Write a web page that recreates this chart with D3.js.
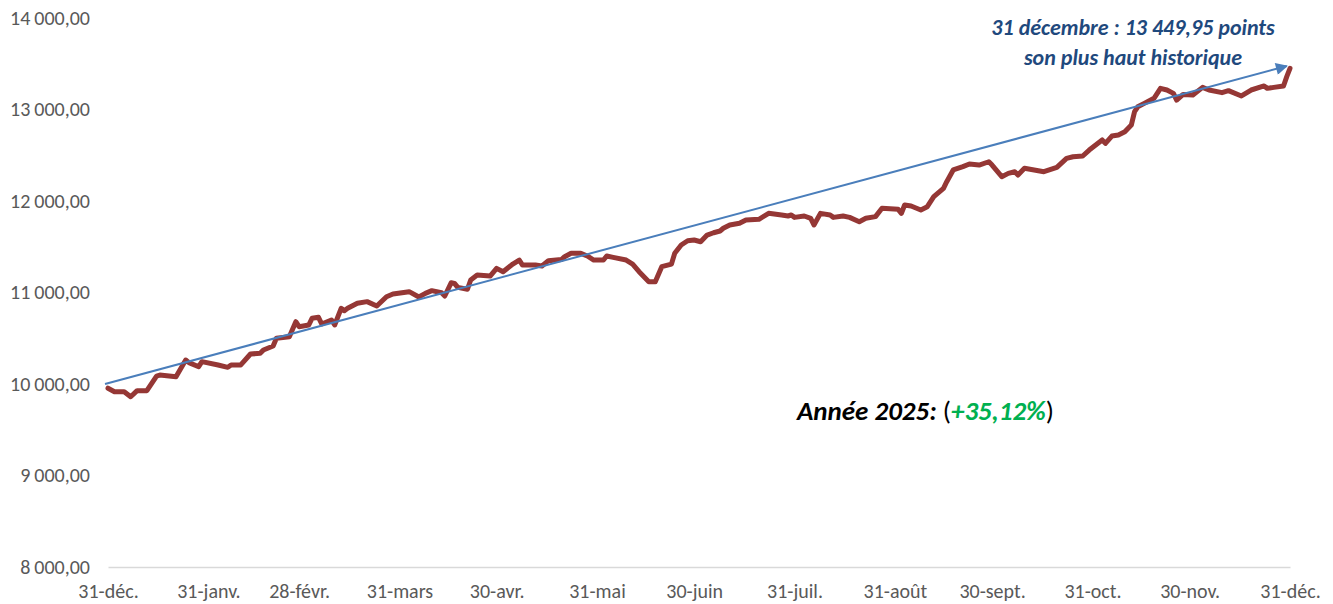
<!DOCTYPE html>
<html>
<head>
<meta charset="utf-8">
<script src="https://cdn.jsdelivr.net/npm/d3@7"></script>
<style>
  html, body { margin: 0; padding: 0; background: #ffffff; }
  svg { display: block; }
  text { font-family: Carlito, Lato, "Liberation Sans Narrow", sans-serif; }
</style>
</head>
<body>
<svg id="chart" width="1333" height="604"></svg>
<script>
// ---------- DATA ----------
const baseDate = "2024-12-31";
// day offsets from 31-déc. 2024
const dayOffsets = [0,2,5,7,9,12,15,16,21,24,25,28,29,34,37,38,41,44,47,48,51,52,56,58,59,62,63,65,66,69,70,72,73,74,77,80,83,86,88,93,96,98,100,103,104,106,107,108,111,112,114,118,120,122,125,127,128,132,134,136,140,141,143,146,148,150,153,154,156,160,162,164,167,169,171,174,175,177,179,181,183,185,187,189,190,192,195,197,201,204,208,210,211,212,215,217,218,220,223,224,227,229,232,234,237,239,244,245,246,248,251,253,255,258,259,261,264,266,269,272,273,276,278,280,281,283,286,289,293,296,298,301,303,305,307,308,310,312,314,316,317,318,320,323,325,327,329,330,332,335,338,340,344,346,350,353,357,358,360,363,364,365];
const indexValues = [9954,9916,9916,9861,9927,9927,10087,10098,10080,10262,10233,10189,10244,10208,10182,10208,10208,10328,10335,10372,10415,10499,10517,10681,10626,10645,10718,10729,10656,10700,10645,10827,10802,10827,10882,10900,10852,10954,10984,11009,10951,10991,11020,10998,10962,11107,11100,11056,11035,11137,11191,11180,11264,11227,11311,11355,11300,11300,11290,11348,11360,11391,11428,11428,11399,11355,11355,11399,11384,11355,11311,11227,11118,11118,11282,11311,11428,11519,11566,11574,11555,11628,11653,11672,11702,11738,11756,11792,11800,11865,11847,11836,11847,11821,11836,11811,11738,11865,11847,11821,11836,11821,11774,11811,11829,11920,11909,11865,11956,11945,11902,11938,12047,12139,12211,12339,12375,12404,12393,12429,12393,12266,12302,12320,12284,12357,12339,12320,12368,12466,12484,12492,12557,12612,12667,12630,12710,12721,12757,12830,12976,13030,13067,13122,13231,13213,13176,13103,13165,13158,13242,13213,13184,13206,13148,13213,13257,13231,13242,13257,13359,13449.95];
// trend arrow (day offset, value)
const trendDays = [0, 364];
const trendValues = [10000, 13475];
// axes
const xTickDates = ["2024-12-31","2025-01-31","2025-02-28","2025-03-31","2025-04-30","2025-05-31","2025-06-30","2025-07-31","2025-08-31","2025-09-30","2025-10-31","2025-11-30","2025-12-31"];
const xTickLabels = ["31-déc.","31-janv.","28-févr.","31-mars","30-avr.","31-mai","30-juin","31-juil.","31-août","30-sept.","31-oct.","30-nov.","31-déc."];
const yTicks = [8000,9000,10000,11000,12000,13000,14000];
const annotationLines = ["31 décembre : 13 449,95 points", "son plus haut historique"];
const yearLabel = "Année 2025:";
const yearChange = "+35,12%";

// ---------- CHART ----------
const parse = d3.utcParse("%Y-%m-%d");
const base = parse(baseDate);
const toDate = d => d3.utcDay.offset(base, d);
const data = dayOffsets.map((d, i) => ({date: toDate(d), value: indexValues[i]}));

const svg = d3.select("#chart");
const x = d3.scaleUtc().domain([parse("2024-12-31"), parse("2025-12-31")]).range([108, 1290]);
const y = d3.scaleLinear().domain([8000, 14000]).range([567, 18]);

const fr = d3.formatLocale({decimal: ",", thousands: "\u2009", grouping: [3], currency: ["", ""]});
const yFmt = fr.format(",.2f");

// y axis
const yAxis = svg.append("g").attr("transform", "translate(90,0)")
  .call(d3.axisLeft(y).tickValues(yTicks).tickFormat(yFmt).tickSize(0).tickPadding(0));
yAxis.select(".domain").remove();
yAxis.selectAll("text").attr("fill", "#595959").style("font-size", "20px");

// x axis
const xAxis = svg.append("g").attr("transform", "translate(0,567)")
  .call(d3.axisBottom(x).tickValues(xTickDates.map(parse))
    .tickFormat((d, i) => xTickLabels[i]).tickSize(0).tickSizeOuter(0).tickPadding(17));
xAxis.select(".domain").attr("stroke", "#d9d9d9").attr("stroke-width", 1.5);
xAxis.selectAll("text").attr("fill", "#595959").style("font-size", "20px");

// index line
svg.append("path").datum(data)
  .attr("fill", "none")
  .attr("stroke", "#953735")
  .attr("stroke-width", 5)
  .attr("stroke-linejoin", "round")
  .attr("stroke-linecap", "round")
  .attr("d", d3.line().x(d => x(d.date)).y(d => y(d.value)));

// trend arrow
svg.append("defs").append("marker")
  .attr("id", "arrow").attr("viewBox", "0 0 10 10")
  .attr("refX", 9).attr("refY", 5)
  .attr("markerWidth", 16).attr("markerHeight", 12)
  .attr("markerUnits", "userSpaceOnUse")
  .attr("orient", "auto")
  .append("path").attr("d", "M0,0 L10,5 L0,10 z").attr("fill", "#4a7ebb");
const x1 = x(toDate(trendDays[0])) - 3, y1 = y(trendValues[0]);
const x2 = x(toDate(trendDays[1])), y2 = y(trendValues[1]);
svg.append("line")
  .attr("x1", x1).attr("y1", y1).attr("x2", x2).attr("y2", y2)
  .attr("stroke", "#4a7ebb").attr("stroke-width", 2)
  .attr("marker-end", "url(#arrow)");

// annotation top right
const ann = svg.append("text")
  .attr("text-anchor", "middle")
  .attr("fill", "#1f497d")
  .style("font-size", "22px").style("font-weight", "bold").style("font-style", "italic");
annotationLines.forEach((t, i) => {
  ann.append("tspan").attr("x", 1133).attr("y", 35 + i * 30).text(t);
});

// year label
const yl = svg.append("text").attr("x", 797).attr("y", 420).style("font-size", "27px");
yl.append("tspan").attr("fill", "#000").style("font-weight", "bold").style("font-style", "italic").text(yearLabel + " ");
yl.append("tspan").attr("fill", "#000").text("(");
yl.append("tspan").attr("fill", "#00b050").style("font-weight", "bold").style("font-style", "italic").text(yearChange);
yl.append("tspan").attr("fill", "#000").text(")");
</script>
</body>
</html>
